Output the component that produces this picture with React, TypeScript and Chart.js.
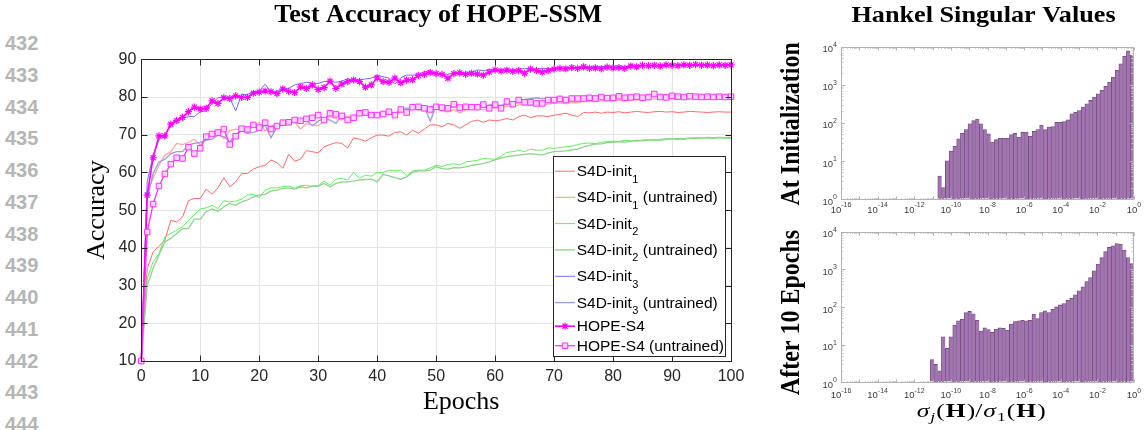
import React, { useEffect, useRef } from 'react';
import { Chart, registerables } from 'chart.js';

Chart.register(...registerables);

const SANS = "'Liberation Sans', Arial, Helvetica, sans-serif";
const SERIF = "'Liberation Serif', 'Times New Roman', Times, serif";

// ---------------- data ----------------
const lineNumbers = [432, 433, 434, 435, 436, 437, 438, 439, 440, 441, 442, 443, 444];

const epochs = Array.from({ length: 101 }, (_, i) => i);
const epochTicks = [0, 10, 20, 30, 40, 50, 60, 70, 80, 90, 100];
const accuracyTicks = [10, 20, 30, 40, 50, 60, 70, 80, 90];

const s4dInit1 = [
  10, 34.5, 38.9, 40.4, 42.0, 47.3, 46.9, 48.2, 52.5, 53.1,
  53.1, 55.6, 54.2, 55.9, 58.6, 56.2, 57.5, 59.7, 59.7, 60.9,
  61.5, 61.9, 63.3, 62.6, 61.1, 64.8, 63.0, 63.5, 65.8, 65.5,
  65.2, 66.8, 67.4, 67.9, 67.7, 66.5, 69.2, 68.8, 68.3, 69.2,
  69.9, 69.9, 69.6, 70.6, 70.8, 69.9, 71.2, 70.4, 71.5, 72.6,
  72.6, 72.1, 73.0, 72.6, 71.7, 72.6, 73.5, 73.9, 73.3, 73.9,
  73.7, 73.9, 74.3, 73.9, 74.8, 75.2, 74.5, 75.0, 75.0, 74.8,
  75.2, 75.4, 75.7, 75.2, 74.8, 75.9, 75.8, 76.0, 75.7, 76.0,
  75.9, 76.1, 75.8, 76.0, 76.2, 76.0, 75.9, 76.1, 76.2, 76.0,
  76.1, 75.9, 76.0, 76.2, 76.1, 76.0, 75.9, 76.0, 76.1, 76.0,
  76.0,
];
const s4dInit1Untrained = [
  10, 55.0, 58.4, 61.9, 64.6, 65.5, 67.7, 67.4, 68.0, 68.8,
  67.3, 68.8, 69.9, 70.2, 69.0, 71.1, 71.5, 71.2, 71.7, 72.3,
  73.3, 71.0, 72.4, 72.6, 72.4, 73.9, 73.5, 71.5, 73.0, 72.6,
  72.4, 73.6, 74.8, 74.3, 73.9, 74.8, 74.5, 75.4, 75.2, 75.4,
  75.7, 75.4, 76.1, 75.2, 76.1, 76.5, 76.8, 76.5, 76.5, 77.0,
  77.0, 76.4, 76.0, 76.6, 75.8, 76.5, 76.8, 77.0, 76.6, 77.2,
  77.0, 77.3, 77.6, 77.4, 77.9, 78.0, 77.7, 78.1, 77.8, 78.2,
  78.3, 78.5, 78.2, 78.6, 78.5, 78.8, 78.9, 78.7, 79.0, 79.1,
  78.9, 79.2, 79.0, 79.3, 79.2, 79.4, 79.3, 79.5, 79.4, 79.6,
  79.5, 79.4, 79.6, 79.5, 79.7, 79.6, 79.5, 79.7, 79.6, 79.6,
  79.7,
];
const s4dInit2 = [
  10, 31.9, 36.3, 38.5, 42.9, 43.8, 44.7, 45.6, 47.3, 48.8,
  50.3, 50.6, 51.3, 50.4, 52.5, 52.2, 52.4, 52.9, 54.0, 54.2,
  53.3, 55.3, 55.9, 55.9, 56.2, 56.4, 55.8, 56.5, 56.6, 56.2,
  56.4, 57.7, 56.6, 58.2, 58.4, 58.0, 60.0, 58.4, 59.3, 59.0,
  60.0, 60.0, 60.6, 60.4, 60.6, 59.1, 60.4, 60.6, 60.6, 61.2,
  61.9, 61.6, 62.1, 62.3, 62.0, 62.8, 63.0, 63.2, 63.7, 63.6,
  63.5, 64.3, 65.3, 65.5, 65.9, 65.5, 66.2, 65.9, 65.9, 66.5,
  66.4, 66.6, 66.8, 67.0, 67.4, 67.7, 67.8, 67.6, 68.0, 68.2,
  68.3, 68.2, 68.5, 68.4, 68.3, 68.6, 68.7, 68.5, 68.8, 68.9,
  68.9, 68.7, 69.0, 69.1, 68.9, 69.2, 69.1, 69.0, 69.2, 69.1,
  69.0,
];
const s4dInit2Untrained = [
  10, 30.1, 34.5, 38.1, 41.6, 42.5, 43.8, 45.1, 45.1, 47.6,
  47.6, 49.6, 50.3, 49.7, 50.9, 51.8, 51.3, 52.2, 52.7, 53.5,
  54.0, 54.2, 55.1, 55.3, 55.8, 55.9, 55.6, 56.2, 55.9, 56.4,
  56.4, 57.1, 56.2, 57.1, 57.5, 57.5, 57.7, 58.0, 58.1, 58.2,
  57.5, 59.5, 59.1, 58.6, 58.2, 58.8, 60.0, 60.4, 60.4, 60.6,
  61.5, 61.0, 60.9, 61.3, 61.2, 61.5, 61.9, 62.1, 62.4, 62.8,
  63.3, 63.8, 64.2, 64.4, 64.6, 64.8, 65.0, 64.8, 64.6, 65.2,
  65.5, 65.6, 65.7, 66.0, 66.2, 66.8, 67.2, 67.5, 67.6, 67.9,
  68.0, 68.2, 68.0, 68.3, 68.5, 68.4, 68.6, 68.7, 68.5, 68.8,
  68.9, 69.0, 68.8, 69.1, 69.2, 69.1, 69.3, 69.2, 69.3, 69.2,
  69.3,
];
const s4dInit3 = [
  10, 57.5, 64.6, 68.6, 69.9, 72.6, 73.5, 74.3, 74.8, 74.8,
  76.1, 76.3, 78.3, 79.8, 80.1, 79.8, 76.3, 80.7, 80.7, 81.4,
  81.6, 83.4, 81.4, 81.6, 82.3, 82.3, 83.2, 83.6, 83.9, 83.6,
  83.6, 84.1, 84.1, 83.9, 84.2, 84.8, 84.5, 84.5, 84.8, 85.0,
  85.7, 85.4, 85.0, 83.4, 85.1, 85.8, 85.8, 86.0, 86.7, 86.9,
  86.3, 86.2, 86.0, 86.5, 86.4, 86.6, 86.5, 87.2, 87.0, 87.3,
  87.4, 87.2, 87.5, 87.3, 87.4, 87.6, 87.5, 87.4, 87.6, 87.5,
  87.7, 87.8, 87.6, 87.9, 87.8, 88.0, 87.9, 88.1, 88.0, 88.2,
  88.1, 88.2, 88.0, 88.3, 88.2, 88.4, 88.3, 88.5, 88.4, 88.5,
  88.4, 88.6, 88.5, 88.4, 88.6, 88.5, 88.6, 88.4, 88.6, 88.5,
  88.6,
];
const s4dInit3Untrained = [
  10, 53.0, 59.7, 62.8, 63.5, 65.0, 65.5, 65.5, 67.3, 67.7,
  68.0, 68.6, 68.8, 69.9, 69.5, 68.1, 70.1, 71.0, 70.4, 70.6,
  71.2, 72.6, 69.2, 72.1, 72.6, 72.7, 73.9, 74.3, 73.9, 72.4,
  73.6, 74.3, 73.9, 73.0, 75.2, 74.3, 74.8, 75.9, 75.4, 75.2,
  75.7, 75.7, 75.9, 75.4, 77.2, 77.0, 77.2, 77.2, 77.4, 73.6,
  77.7, 77.4, 77.6, 77.3, 77.5, 77.6, 77.4, 77.8, 77.6, 77.9,
  78.0, 77.8, 78.3, 78.6, 79.0, 79.4, 79.6, 79.8, 79.5, 79.7,
  79.6, 79.8, 79.9, 79.7, 79.9, 80.0, 79.9, 80.1, 80.0, 80.2,
  80.1, 80.3, 80.1, 80.2, 80.4, 80.2, 80.3, 80.5, 80.3, 80.2,
  80.4, 80.3, 80.2, 80.4, 80.3, 80.2, 80.3, 80.2, 80.3, 80.2,
  80.3,
];
const hopeS4 = [
  10, 54.0, 63.9, 69.7, 69.7, 72.8, 73.8, 74.6, 76.1, 77.3,
  76.8, 77.0, 79.0, 78.3, 79.8, 79.6, 80.3, 79.9, 79.9, 81.0,
  81.3, 81.6, 81.4, 80.9, 82.1, 81.5, 81.2, 82.7, 82.3, 83.2,
  82.0, 82.5, 84.2, 82.3, 83.4, 84.1, 84.5, 84.1, 82.6, 83.2,
  85.1, 84.1, 83.9, 85.0, 83.8, 84.5, 84.6, 85.7, 86.0, 86.5,
  86.2, 86.0, 85.0, 86.2, 86.4, 86.0, 86.3, 86.1, 85.8, 86.6,
  87.2, 86.9, 87.1, 86.8, 87.0, 86.3, 87.4, 87.0, 86.6, 87.0,
  87.4, 87.6, 87.5, 87.8, 87.6, 88.0, 87.6, 87.7, 87.5, 87.9,
  87.7, 87.8, 87.6, 88.2, 88.0, 88.4, 88.3, 88.4, 88.2, 88.5,
  88.4, 88.3, 88.5, 88.4, 88.6, 88.4, 88.5, 88.3, 88.5, 88.4,
  88.5,
];
const hopeS4Untrained = [
  10, 44.2, 51.6, 56.4, 59.6, 62.2, 63.9, 63.7, 66.7, 65.0,
  66.4, 69.5, 70.2, 70.6, 71.5, 67.4, 69.6, 71.6, 71.4, 72.6,
  71.9, 73.2, 71.5, 72.3, 73.2, 73.3, 73.9, 73.7, 74.2, 74.5,
  75.2, 73.9, 75.7, 75.4, 75.0, 73.9, 74.5, 75.7, 75.9, 75.2,
  75.2, 75.5, 76.1, 75.2, 76.7, 75.9, 77.3, 77.4, 77.0, 76.7,
  77.4, 77.2, 77.0, 78.1, 77.2, 77.4, 77.3, 77.3, 78.0, 77.0,
  78.0, 77.0, 78.8, 78.1, 79.2, 78.6, 78.6, 78.3, 78.3, 79.2,
  79.2, 79.5, 79.2, 79.6, 79.6, 79.6, 79.8, 79.6, 80.0, 79.7,
  79.8, 80.2, 79.8, 79.9, 80.1, 79.8, 80.0, 80.8, 80.0, 79.9,
  80.3, 80.1, 80.0, 80.2, 80.1, 80.0, 80.1, 80.0, 80.1, 80.0,
  80.1,
];

const seriesValues = [
  s4dInit1, s4dInit1Untrained, s4dInit2, s4dInit2Untrained,
  s4dInit3, s4dInit3Untrained, hopeS4, hopeS4Untrained,
];
const seriesLabels = [
  'S4D-init₁', 'S4D-init₁ (untrained)', 'S4D-init₂', 'S4D-init₂ (untrained)',
  'S4D-init₃', 'S4D-init₃ (untrained)', 'HOPE-S4', 'HOPE-S4 (untrained)',
];
const legendBase = ['S4D-init', 'S4D-init', 'S4D-init', 'S4D-init', 'S4D-init', 'S4D-init', 'HOPE-S4', 'HOPE-S4'];
const legendSub = ['1', '1', '2', '2', '3', '3', '', ''];
const legendSuffix = ['', ' (untrained)', '', ' (untrained)', '', ' (untrained)', '', ' (untrained)'];

// Hankel singular value histograms (counts per log-spaced bin)
const hankelBinWidth = 0.206; // decades per bin
const hankelInitBinStart = -10.71;
const hankelInitCounts = [
  4, 2, 10, 18, 24, 38, 53, 66, 94, 115, 125, 94, 66, 51, 31, 36, 39, 39, 39, 49,
  53, 42, 56, 57, 44, 60, 66, 87, 66, 77, 80, 102, 102, 108, 120, 172, 190, 210, 258, 316,
  386, 476, 580, 710, 910, 1170, 1590, 2400, 3560, 5600, 7700, 5900,
];
const hankelEpoch10BinStart = -11.13;
const hankelEpoch10Counts = [
  4, 3, 2, 16, 8, 16, 33, 43, 47, 71, 76, 66, 44, 23, 28, 25, 21, 26, 28, 27,
  24, 35, 41, 43, 44, 43, 44, 64, 49, 71, 79, 71, 87, 100, 113, 123, 151, 171, 209, 268,
  342, 470, 602, 910, 1370, 2050, 2960, 3800, 4200, 4800, 4700, 3200, 2050, 1420,
];
const hankelXTickExps = [-16, -14, -12, -10, -8, -6, -4, -2, 0];
const hankelYTickExps = [0, 1, 2, 3, 4];

// ---------------- styles ----------------
const seriesColors = ['#ff6a6a', '#ffa9a4', '#62ee62', '#8fd28f', '#6e6ef8', '#9b9bdb', '#ff00ff', '#ff33ff'];
const seriesWidths = [1, 1.3, 1, 1.3, 1, 1.3, 1.6, 1.3];
const seriesMarkers: (string | null)[] = [null, null, null, null, null, null, 'star', 'rect'];

Chart.defaults.font.family = SANS;

function drawStar(ctx: CanvasRenderingContext2D, x: number, y: number, r: number) {
  const d = r * Math.SQRT1_2;
  ctx.beginPath();
  ctx.moveTo(x - r, y); ctx.lineTo(x + r, y);
  ctx.moveTo(x, y - r); ctx.lineTo(x, y + r);
  ctx.moveTo(x - d, y - d); ctx.lineTo(x + d, y + d);
  ctx.moveTo(x - d, y + d); ctx.lineTo(x + d, y - d);
  ctx.stroke();
}
function drawSquare(ctx: CanvasRenderingContext2D, x: number, y: number, r: number, fill: string) {
  const s = Math.SQRT1_2 * r;
  ctx.beginPath();
  ctx.rect(x - s, y - s, 2 * s, 2 * s);
  ctx.fillStyle = fill;
  ctx.fill();
  ctx.stroke();
}

function drawText(
  ctx: CanvasRenderingContext2D, text: string, x: number, y: number, font: string,
  o: { align?: CanvasTextAlign; sx?: number; rotate?: number; color?: string } = {},
) {
  ctx.save();
  ctx.translate(x, y);
  ctx.scale(o.sx ?? 1, 1);
  if (o.rotate) ctx.rotate(o.rotate);
  ctx.font = font;
  ctx.fillStyle = o.color ?? '#000';
  ctx.textAlign = o.align ?? 'center';
  ctx.textBaseline = 'alphabetic';
  ctx.fillText(text, 0, 0);
  ctx.restore();
}

const legendRowOffsets = [14.7, 40.9, 67.1, 93.4, 119.8, 146.1, 169.7, 189.2];

const mainDecor = {
  id: 'mainDecor',
  afterDraw(chart: any) {
    const ctx: CanvasRenderingContext2D = chart.ctx;
    const { left, right, top, bottom } = chart.chartArea;
    const xs = chart.scales.x;
    const ys = chart.scales.y;
    ctx.save();
    ctx.strokeStyle = '#262626';
    ctx.lineWidth = 1;
    const L = Math.round(left) + 0.5, R = Math.round(right) + 0.5;
    const T = Math.round(top) + 0.5, B = Math.round(bottom) + 0.5;
    ctx.beginPath();
    for (const v of epochTicks) {
      const px = Math.round(xs.getPixelForValue(v)) + 0.5;
      ctx.moveTo(px, B); ctx.lineTo(px, B - 6);
      ctx.moveTo(px, T); ctx.lineTo(px, T + 6);
    }
    for (const v of accuracyTicks) {
      const py = Math.round(ys.getPixelForValue(v)) + 0.5;
      ctx.moveTo(L, py); ctx.lineTo(L + 6, py);
      ctx.moveTo(R, py); ctx.lineTo(R - 6, py);
    }
    ctx.stroke();
    ctx.strokeRect(L, T, R - L, B - T);

    // titles
    drawText(ctx, 'Test Accuracy of HOPE-SSM', (left + right) / 2 + 2, 22, `bold 26px ${SERIF}`);
    drawText(ctx, 'Epochs', (left + right) / 2 + 25, 409, `26px ${SERIF}`);

    // legend (inside, south-east)
    const bw = 172, bh = 200;
    const bx = Math.round(right - 5.7 - bw) + 0.5;
    const by = Math.round(bottom - 5.3 - bh) + 0.5;
    ctx.fillStyle = '#ffffff';
    ctx.fillRect(bx, by, bw, bh);
    ctx.strokeStyle = '#262626';
    ctx.lineWidth = 1;
    ctx.strokeRect(bx, by, bw, bh);
    const mainFont = `15.5px ${SANS}`;
    const subFont = `11px ${SANS}`;
    legendRowOffsets.forEach((off, i) => {
      const y = by + off;
      ctx.strokeStyle = seriesColors[i];
      ctx.lineWidth = seriesWidths[i];
      ctx.beginPath();
      ctx.moveTo(bx + 1.5, y); ctx.lineTo(bx + 21.5, y);
      ctx.stroke();
      if (seriesMarkers[i] === 'star') {
        ctx.lineWidth = 1.2;
        drawStar(ctx, bx + 11.5, y, 3.6);
      } else if (seriesMarkers[i] === 'rect') {
        ctx.lineWidth = 1;
        drawSquare(ctx, bx + 11.5, y, 3.9, '#fbd3fb');
      }
      ctx.fillStyle = '#000';
      ctx.textAlign = 'left';
      ctx.textBaseline = 'alphabetic';
      let tx = bx + 23.2;
      const base = y + 5;
      ctx.font = mainFont;
      ctx.fillText(legendBase[i], tx, base);
      tx += ctx.measureText(legendBase[i]).width;
      if (legendSub[i]) {
        ctx.font = subFont;
        ctx.fillText(legendSub[i], tx + 0.5, base + 6.5);
        tx += ctx.measureText(legendSub[i]).width + 0.5;
        ctx.font = mainFont;
      }
      if (legendSuffix[i]) ctx.fillText(legendSuffix[i], tx, base);
    });
    ctx.restore();
  },
};

function mainConfig(): any {
  const n = seriesValues.length;
  return {
    type: 'line',
    data: {
      datasets: seriesValues.map((vals, i) => ({
        label: seriesLabels[i],
        data: vals.map((v, k) => ({ x: epochs[k], y: v })),
        borderColor: seriesColors[i],
        backgroundColor: seriesColors[i],
        borderWidth: seriesWidths[i],
        pointStyle: seriesMarkers[i] ?? 'circle',
        pointRadius: seriesMarkers[i] === 'star' ? 3.6 : seriesMarkers[i] === 'rect' ? 3.9 : 0,
        pointBorderColor: seriesColors[i],
        pointBackgroundColor: seriesMarkers[i] === 'rect' ? '#fbd3fb' : seriesColors[i],
        pointBorderWidth: seriesMarkers[i] === 'star' ? 1.2 : 1,
        pointHoverRadius: 0,
        tension: 0,
        fill: false,
        order: n - i,
        clip: false,
      })),
    },
    options: {
      responsive: false,
      animation: false,
      events: [],
      layout: { padding: { left: 0, right: 29, top: 59.3, bottom: 29 } },
      plugins: {
        legend: { display: false },
        title: { display: false },
        tooltip: { enabled: false },
      },
      scales: {
        x: {
          type: 'linear',
          min: 0,
          max: 100,
          afterBuildTicks: (s: any) => { s.ticks = epochTicks.map((v) => ({ value: v })); },
          afterFit: (s: any) => { s.height = 40; },
          grid: { color: '#e4e4e4', drawTicks: false, lineWidth: 1 },
          border: { display: false },
          ticks: { padding: 6, color: '#262626', font: { family: SANS, size: 16 }, maxRotation: 0, autoSkip: false },
        },
        y: {
          type: 'linear',
          min: 10,
          max: 90,
          afterBuildTicks: (s: any) => { s.ticks = accuracyTicks.map((v) => ({ value: v })); },
          afterFit: (s: any) => { s.width = 81.3; },
          grid: { color: '#e4e4e4', drawTicks: false, lineWidth: 1 },
          border: { display: false },
          ticks: { padding: 5, color: '#262626', font: { family: SANS, size: 16 } },
          title: {
            display: true,
            text: 'Accuracy',
            color: '#000',
            font: { family: SERIF, size: 26, lineHeight: 1.2 },
            padding: { top: 22, bottom: 0 },
          },
        },
      },
    },
    plugins: [mainDecor],
  };
}

type HistOpt = {
  padTop: number;
  xAxisH: number;
  title?: string;
  rowLabel: string;
  rowLabelDy: number;
  xLabelOffset: number;
  sigmaLabel?: boolean;
};

const TEXT_SX = 1.14;

function drawPow(ctx: CanvasRenderingContext2D, exp: number, x: number, y: number, align: 'center' | 'right') {
  const baseFont = `9.5px ${SANS}`;
  const expFont = `7px ${SANS}`;
  ctx.font = baseFont;
  const wb = ctx.measureText('10').width;
  ctx.font = expFont;
  const es = String(exp);
  const we = ctx.measureText(es).width;
  const total = wb + we;
  const x0 = align === 'center' ? x - total / 2 : x - total;
  ctx.textAlign = 'left';
  ctx.textBaseline = 'middle';
  ctx.fillStyle = '#3c3c3c';
  ctx.font = baseFont;
  ctx.fillText('10', x0, y);
  ctx.font = expFont;
  ctx.fillText(es, x0 + wb, y - 5);
}

function makeHistDecor(opt: HistOpt) {
  return {
    id: 'histDecor',
    afterDraw(chart: any) {
      const ctx: CanvasRenderingContext2D = chart.ctx;
      const { left, right, top, bottom } = chart.chartArea;
      const xs = chart.scales.x;
      const ys = chart.scales.y;
      ctx.save();
      const L = Math.round(left) + 0.5, R = Math.round(right) - 0.5;
      const T = Math.round(top) + 0.5, B = Math.round(bottom) + 0.5;
      // minor ticks
      ctx.strokeStyle = '#cfcfcf';
      ctx.lineWidth = 1;
      ctx.beginPath();
      for (let e = -16; e < 0; e++) {
        for (let m = 2; m <= 9; m++) {
          const px = Math.round(xs.getPixelForValue(m * Math.pow(10, e))) + 0.5;
          ctx.moveTo(px, T); ctx.lineTo(px, T + 1.5);
          ctx.moveTo(px, B); ctx.lineTo(px, B - 1.5);
        }
      }
      for (let e = 0; e < 4; e++) {
        for (let m = 2; m <= 9; m++) {
          const py = Math.round(ys.getPixelForValue(m * Math.pow(10, e))) + 0.5;
          ctx.moveTo(L, py); ctx.lineTo(L + 2, py);
          ctx.moveTo(R, py); ctx.lineTo(R - 2, py);
        }
      }
      ctx.stroke();
      // frame + major ticks
      ctx.strokeStyle = '#b3b3b3';
      ctx.beginPath();
      for (let e = -16; e <= 0; e++) {
        const px = Math.round(xs.getPixelForValue(Math.pow(10, e))) + 0.5;
        ctx.moveTo(px, T); ctx.lineTo(px, T + 3);
        ctx.moveTo(px, B); ctx.lineTo(px, B - 3);
      }
      for (const e of hankelYTickExps) {
        const py = Math.round(ys.getPixelForValue(Math.pow(10, e))) + 0.5;
        ctx.moveTo(L, py); ctx.lineTo(L + 3.5, py);
        ctx.moveTo(R, py); ctx.lineTo(R - 3.5, py);
      }
      ctx.stroke();
      ctx.strokeRect(L, T, R - L, B - T);
      // tick labels
      for (const e of hankelXTickExps) {
        drawPow(ctx, e, xs.getPixelForValue(Math.pow(10, e)), bottom + opt.xLabelOffset, 'center');
      }
      for (const e of hankelYTickExps) {
        drawPow(ctx, e, left - 4, ys.getPixelForValue(Math.pow(10, e)) + 3, 'right');
      }
      // texts
      if (opt.title) {
        drawText(ctx, opt.title, (left + right) / 2 - 4, 22, `bold 23px ${SERIF}`, { sx: TEXT_SX });
      }
      drawText(ctx, opt.rowLabel, 29, (top + bottom) / 2 + opt.rowLabelDy, `bold 24px ${SERIF}`, {
        sx: TEXT_SX, rotate: -Math.PI / 2,
      });
      if (opt.sigmaLabel) {
        const parts = [
          { t: 'σ', f: `italic 19px ${SERIF}`, dy: 0 },
          { t: 'j', f: `italic 13px ${SERIF}`, dy: 4 },
          { t: '(', f: `19px ${SERIF}`, dy: 0 },
          { t: 'H', f: `bold 19px ${SERIF}`, dy: 0 },
          { t: ')/', f: `19px ${SERIF}`, dy: 0 },
          { t: 'σ', f: `italic 19px ${SERIF}`, dy: 0 },
          { t: '1', f: `13px ${SERIF}`, dy: 4 },
          { t: '(', f: `19px ${SERIF}`, dy: 0 },
          { t: 'H', f: `bold 19px ${SERIF}`, dy: 0 },
          { t: ')', f: `19px ${SERIF}`, dy: 0 },
        ];
        let total = 0;
        const widths = parts.map((p) => { ctx.font = p.f; const w = ctx.measureText(p.t).width + 0.8; total += w; return w; });
        const sx = 130 / total;
        const cx = (left + right) / 2 - 5.8;
        ctx.save();
        ctx.translate(cx - (total * sx) / 2, 195);
        ctx.scale(sx, 1);
        ctx.fillStyle = '#000';
        ctx.textAlign = 'left';
        ctx.textBaseline = 'alphabetic';
        let x = 0;
        parts.forEach((p, i) => { ctx.font = p.f; ctx.fillText(p.t, x, p.dy); x += widths[i]; });
        ctx.restore();
      }
      ctx.restore();
    },
  };
}

function histConfig(counts: number[], binStart: number, opt: HistOpt): any {
  return {
    type: 'bar',
    data: {
      datasets: [
        {
          label: 'count',
          data: counts.map((c, i) => ({ x: Math.pow(10, binStart + (i + 0.5) * hankelBinWidth), y: c })),
          backgroundColor: '#a274b2',
          borderColor: '#694a73',
          borderWidth: { left: 0.8, top: 0.8, right: 0, bottom: 0 },
          borderSkipped: false,
          barPercentage: 1,
          categoryPercentage: 1,
          grouped: false,
          inflateAmount: 0.4,
        },
      ],
    },
    options: {
      responsive: false,
      animation: false,
      events: [],
      layout: { padding: { left: 0, right: 11, top: opt.padTop, bottom: 0 } },
      plugins: { legend: { display: false }, tooltip: { enabled: false }, title: { display: false } },
      scales: {
        x: {
          type: 'logarithmic',
          min: 1e-16,
          max: 1,
          offset: false,
          afterBuildTicks: (s: any) => { s.ticks = hankelXTickExps.map((e) => ({ value: Math.pow(10, e) })); },
          afterFit: (s: any) => { s.height = opt.xAxisH; },
          ticks: { display: false },
          grid: { display: false },
          border: { display: false },
        },
        y: {
          type: 'logarithmic',
          min: 1,
          max: 1e4,
          afterFit: (s: any) => { s.width = 71; },
          ticks: { display: false },
          grid: { display: false },
          border: { display: false },
        },
      },
    },
    plugins: [makeHistDecor(opt)],
  };
}

export default function App() {
  const mainRef = useRef<HTMLCanvasElement>(null);
  const topRef = useRef<HTMLCanvasElement>(null);
  const botRef = useRef<HTMLCanvasElement>(null);

  useEffect(() => {
    const charts = [
      new Chart(mainRef.current as HTMLCanvasElement, mainConfig()),
      new Chart(topRef.current as HTMLCanvasElement, histConfig(hankelInitCounts, hankelInitBinStart, {
        padTop: 46.7, xAxisH: 23, title: 'Hankel Singular Values', rowLabel: 'At Initialization',
        rowLabelDy: 1, xLabelOffset: 11,
      })),
      new Chart(botRef.current as HTMLCanvasElement, histConfig(hankelEpoch10Counts, hankelEpoch10BinStart, {
        padTop: 9.7, xAxisH: 47.7, rowLabel: 'After 10 Epochs', rowLabelDy: 5.5, xLabelOffset: 13.5,
        sigmaLabel: true,
      })),
    ];
    return () => charts.forEach((c) => c.destroy());
  }, []);

  return (
    <div style={{ position: 'absolute', left: 0, top: 0, width: 1145, height: 430, background: '#fff', overflow: 'hidden' }}>
      {lineNumbers.map((n, i) => (
        <div
          key={n}
          style={{
            position: 'absolute', left: 5, top: 43 + i * 31.75 - 10, fontFamily: SANS, fontWeight: 'bold',
            fontSize: 20, lineHeight: '20px', color: '#b5b5b5',
          }}
        >
          {n}
        </div>
      ))}
      <canvas ref={mainRef} width={700} height={430} style={{ position: 'absolute', left: 60, top: 0 }} />
      <canvas ref={topRef} width={375} height={222} style={{ position: 'absolute', left: 770, top: 0 }} />
      <canvas ref={botRef} width={375} height={208} style={{ position: 'absolute', left: 770, top: 222 }} />
    </div>
  );
}
